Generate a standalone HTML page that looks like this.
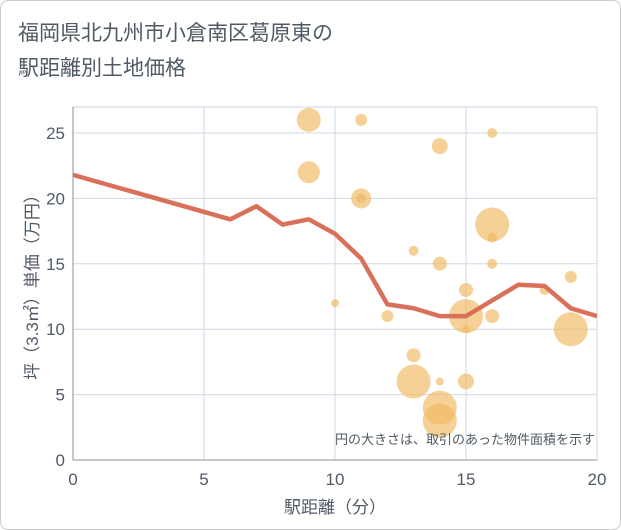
<!DOCTYPE html>
<html><head><meta charset="utf-8"><style>
body{margin:0;background:#fff;font-family:"Liberation Sans","Noto Sans CJK JP",sans-serif}
#wrap{position:absolute;left:0;top:0;width:619px;height:528px;border:1px solid #ccc;border-radius:8px}
</style></head><body>
<div id="wrap">
<svg width="621" height="530" id="svg" style="position:absolute;left:-1px;top:-1px">
<text x="18" y="40" font-size="21" fill="#505a66">福岡県北九州市小倉南区葛原東の</text>
<text x="18" y="75" font-size="21" fill="#505a66">駅距離別土地価格</text>
<g id="grid"></g><g id="bubbles"></g><g id="line"></g><g id="axes"></g>
<text x="595" y="444" font-size="13" fill="#505a66" text-anchor="end">円の大きさは、取引のあった物件面積を示す</text>
<text x="335" y="513" font-size="17" fill="#505a66" text-anchor="middle">駅距離（分）</text>
<text transform="translate(38,283) rotate(-90)" font-size="17" fill="#505a66" text-anchor="middle">坪（3.3㎡）単価（万円）</text>
</svg></div>
<script>
const xTicks=[0,5,10,15,20];
const yTicks=[0,5,10,15,20,25];
const bubbleX=[9,9,11,11,11,14,16,16,16,13,14,16,10,12,15,15,15,16,18,19,19,13,13,14,15,14,14];
const bubbleY=[26,22,26,20,20,24,25,18,17,16,15,15,12,11,13,11,10,11,13,14,10,8,6,6,6,4,3];
const bubbleR=[12,11,6,10,5,8,5,17,5,5,7,5,4,6,7,17,4,7,5,6,17,7,17,4,8,17,17];
const lineX=[0,6,7,8,9,10,11,12,13,14,15,16,17,18,19,20];
const lineY=[21.8,18.4,19.4,18.0,18.4,17.3,15.4,11.9,11.6,11.0,11.0,12.2,13.4,13.3,11.6,11.0];
const L=73,R=597,T=107,B=460;
const sx=v=>L+(R-L)*v/20, sy=v=>B-(B-133)*v/25;
const NS="http://www.w3.org/2000/svg";
function mk(t,p,a){const e=document.createElementNS(NS,t);for(const k in a)e.setAttribute(k,a[k]);p.appendChild(e);return e;}
const g=document.getElementById('grid'),ax=document.getElementById('axes');
const fr=mk('rect',g,{x:L,y:T,width:R-L,height:B-T,fill:'none',stroke:'#c8d0dc'});


xTicks.forEach(v=>{
 const l=mk('line',g,{x1:sx(v),x2:sx(v),y1:T,y2:B,stroke:'#cfd9e6'});
 
 
 const t=mk('text',ax,{x:sx(v),y:B+25,'font-size':17,fill:'#505a66','text-anchor':'middle'});t.textContent=v;
 
 
});
yTicks.forEach(v=>{
 const l=mk('line',g,{x1:L,x2:R,y1:sy(v),y2:sy(v),stroke:'#cfd9e6'});
 
 
 const t=mk('text',ax,{x:L-8,y:sy(v)+6,'font-size':17,fill:'#505a66','text-anchor':'end'});t.textContent=v;
 
 
});
const a1=mk('line',ax,{x1:L,x2:L,y1:T,y2:B,stroke:'#8a939e'});


const a2=mk('line',ax,{x1:L,x2:R,y1:B,y2:B,stroke:'#8a939e'});


const bg=document.getElementById('bubbles');
bubbleX.forEach((x,i)=>{
 const c=mk('circle',bg,{cx:sx(x),cy:sy(bubbleY[i]),r:bubbleR[i],fill:'#f0b860','fill-opacity':0.65});
 
 
});
const p=mk('polyline',document.getElementById('line'),{points:lineX.map((x,i)=>sx(x)+','+sy(lineY[i])).join(' '),fill:'none',stroke:'#d9705a',"stroke-width":4.5,"stroke-linejoin":"round"});


</script></body></html>
